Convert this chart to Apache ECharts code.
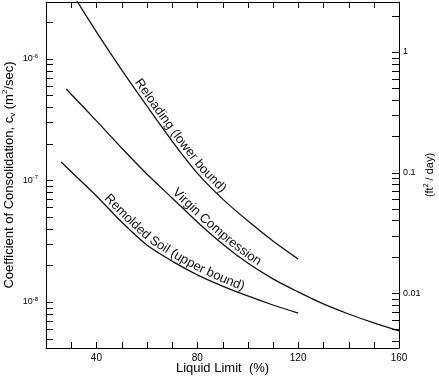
<!DOCTYPE html>
<html>
<head>
<meta charset="utf-8">
<script src="https://cdn.jsdelivr.net/npm/echarts@6/dist/echarts.min.js"></script>
<style>
  html, body { margin: 0; background: #fff; }
  #chart { width: 439px; height: 378px; }
</style>
</head>
<body>
<div id="chart"></div>
<script>
// liquid limit (%) and cv (m2/sec)
var reloadLL = [30, 40, 50, 60, 70, 80, 90, 100, 110, 120];
var reloadCv = [3.56e-6, 1.67e-6, 8.12e-7, 4.10e-7, 2.11e-7, 1.15e-7, 7.05e-8, 4.65e-8, 3.18e-8, 2.26e-8];

var virginLL = [28, 40, 50, 60, 70, 80, 90, 100, 110, 120, 130, 140, 150, 160];
var virginCv = [5.66e-7, 3.09e-7, 1.85e-7, 1.13e-7, 7.18e-8, 4.55e-8, 3.00e-8, 2.09e-8, 1.55e-8, 1.21e-8, 9.63e-9, 7.96e-9, 6.72e-9, 5.77e-9];

var remoldLL = [26, 30, 40, 50, 60, 70, 80, 90, 100, 110, 120];
var remoldCv = [1.42e-7, 1.18e-7, 7.45e-8, 4.55e-8, 2.94e-8, 2.17e-8, 1.67e-8, 1.35e-8, 1.12e-8, 9.44e-9, 8.11e-9];

// tick labels
var xTicks = [40, 80, 120, 160];
var leftTicks = [1e-8, 1e-7, 1e-6];
var rightTicks = [0.01, 0.1, 1];

var FONT = '"Liberation Sans", Arial, Helvetica, sans-serif';
var INK = '#111';

function zip(a, b) {
  return a.map(function (v, i) { return [v, b[i]]; });
}
// minor ticks 2..9 on each decade inside [lo, hi]
function logTicks(lo, hi) {
  var out = [];
  for (var e = Math.floor(Math.log10(lo)); e <= Math.ceil(Math.log10(hi)); e++) {
    for (var m = 1; m <= 9; m++) {
      var v = m * Math.pow(10, e);
      if (v > lo && v < hi) out.push(v);
    }
  }
  return out;
}
var xMinor = [];
for (var t = 30; t < 160; t += 10) xMinor.push(t);

var leftMin = 4.18e-9, leftMax = 2.94e-6;
var rightMin = 0.0035, rightMax = 2.6;

var chart = echarts.init(document.getElementById('chart'));

function axisLine() { return { show: true, onZero: false, lineStyle: { color: '#000', width: 1 } }; }
function lineSeries(ll, cv) {
  return {
    type: 'line',
    data: zip(ll, cv),
    symbol: 'none',
    smooth: 0.3,
    lineStyle: { color: INK, width: 1.3 },
    silent: true
  };
}

chart.setOption({
  animation: false,
  grid: { left: 46, right: 40, top: 2, bottom: 30, outerBoundsMode: 'none' },
  xAxis: [{
    type: 'value',
    min: 20,
    max: 160,
    position: 'bottom',
    axisLine: axisLine(),
    axisTick: { show: false },
    axisLabel: { customValues: xTicks, color: '#000', fontSize: 10, margin: 5, fontFamily: FONT },
    splitLine: { show: false },
    name: 'Liquid Limit  (%)',
    nameLocation: 'middle',
    nameGap: 14,
    nameMoveOverlap: false,
    nameTextStyle: { color: '#000', fontSize: 13, fontFamily: FONT, verticalAlign: 'top' }
  }, {
    type: 'value',
    min: 20,
    max: 160,
    position: 'top',
    axisLine: axisLine(),
    axisTick: { show: false },
    axisLabel: { show: false },
    splitLine: { show: false }
  }],
  yAxis: [{
    type: 'log',
    logBase: 10,
    min: leftMin,
    max: leftMax,
    position: 'left',
    axisLine: axisLine(),
    axisTick: { show: false },
    axisLabel: {
      customValues: leftTicks,
      margin: 8,
      formatter: function (v) {
        return '{b|10}{s|' + Math.round(Math.log10(v)) + '}';
      },
      rich: {
        b: { fontSize: 9, color: '#000', fontFamily: FONT, lineHeight: 12 },
        s: { fontSize: 6, color: '#000', fontFamily: FONT, lineHeight: 7, verticalAlign: 'top' }
      }
    },
    splitLine: { show: false },
    name: 'Coefficient of Consolidation, c{sub|v} (m{sup|2}/sec)',
    nameLocation: 'middle',
    nameGap: 29,
    nameMoveOverlap: false,
    nameTextStyle: {
      color: '#000', fontSize: 13, fontFamily: FONT, lineHeight: 16,
      rich: {
        sub: { fontSize: 8, color: '#000', fontFamily: FONT, lineHeight: 10, verticalAlign: 'bottom' },
        sup: { fontSize: 8, color: '#000', fontFamily: FONT, lineHeight: 10, verticalAlign: 'top' }
      }
    }
  }, {
    type: 'log',
    logBase: 10,
    min: rightMin,
    max: rightMax,
    position: 'right',
    axisLine: axisLine(),
    axisTick: { show: false },
    axisLabel: {
      customValues: rightTicks,
      margin: 4,
      color: '#000',
      fontSize: 9,
      fontFamily: FONT,
      formatter: function (v) { return String(+v.toPrecision(3)); }
    },
    splitLine: { show: false },
    name: '(ft{sup|2} / day)',
    nameLocation: 'middle',
    nameRotate: 90,
    nameGap: 24,
    nameMoveOverlap: false,
    nameTextStyle: {
      color: '#000', fontSize: 11, fontFamily: FONT, lineHeight: 14,
      rich: {
        sup: { fontSize: 7, color: '#000', fontFamily: FONT, lineHeight: 8, verticalAlign: 'top' }
      }
    }
  }],
  series: [
    lineSeries(reloadLL, reloadCv),
    lineSeries(virginLL, virginCv),
    lineSeries(remoldLL, remoldCv)
  ]
});

// curve captions, written along each curve
var captions = [
  { series: 0, text: 'Reloading (lower bound)', from: 54, gap: 7 },
  { series: 1, text: 'Virgin Compression', from: 69, gap: 7 },
  { series: 2, text: 'Remolded Soil (upper bound)', from: 42, gap: 7 }
];
var seriesData = [[reloadLL, reloadCv], [virginLL, virginCv], [remoldLL, remoldCv]];

var ctx = document.createElement('canvas').getContext('2d');
ctx.font = '13px ' + FONT;

function buildCaption(c) {
  var d = seriesData[c.series];
  var pts = d[0].map(function (x, i) {
    return chart.convertToPixel({ seriesIndex: c.series }, [x, d[1][i]]);
  });
  var cum = [0];
  for (var i = 1; i < pts.length; i++) {
    cum.push(cum[i - 1] + Math.hypot(pts[i][0] - pts[i - 1][0], pts[i][1] - pts[i - 1][1]));
  }
  function at(s) {
    for (var k = 1; k < pts.length; k++) {
      if (s <= cum[k] || k === pts.length - 1) {
        var f = (s - cum[k - 1]) / (cum[k] - cum[k - 1]);
        return [pts[k - 1][0] + f * (pts[k][0] - pts[k - 1][0]), pts[k - 1][1] + f * (pts[k][1] - pts[k - 1][1])];
      }
    }
  }
  // arc length where the curve reaches the start x
  var x0 = chart.convertToPixel({ seriesIndex: c.series }, [c.from, d[1][0]])[0];
  var s = 0;
  for (var k = 1; k < pts.length; k++) {
    if (pts[k][0] >= x0) {
      var f = (x0 - pts[k - 1][0]) / (pts[k][0] - pts[k - 1][0]);
      s = cum[k - 1] + f * (cum[k] - cum[k - 1]);
      break;
    }
  }
  var els = [];
  c.text.split('').forEach(function (ch) {
    var w = ctx.measureText(ch).width;
    var mid = s + w / 2;
    var p = at(mid), a = at(mid - 10), b = at(mid + 10);
    var tx = b[0] - a[0], ty = b[1] - a[1], len = Math.hypot(tx, ty);
    tx /= len; ty /= len;
    els.push({
      type: 'text',
      x: p[0] + ty * c.gap,
      y: p[1] - tx * c.gap,
      rotation: -Math.atan2(ty, tx),
      silent: true,
      style: {
        text: ch, fontSize: 13, fontFamily: FONT, fill: INK,
        align: 'center', verticalAlign: 'middle'
      }
    });
    s += w;
  });
  return els;
}

// inside tick marks, positioned through the axes' scales
function tickElements() {
  var els = [];
  var xl = chart.convertToPixel({ xAxisIndex: 0 }, 20);
  var xr = chart.convertToPixel({ xAxisIndex: 0 }, 160);
  var yt = chart.convertToPixel({ yAxisIndex: 0 }, leftMax);
  var yb = chart.convertToPixel({ yAxisIndex: 0 }, leftMin);
  function seg(x1, y1, x2, y2) {
    els.push({
      type: 'line', silent: true, z: 10,
      shape: { x1: x1, y1: y1, x2: x2, y2: y2 },
      style: { stroke: '#000', lineWidth: 1 }
    });
  }
  xMinor.forEach(function (v) {
    var x = Math.round(chart.convertToPixel({ xAxisIndex: 0 }, v)) + 0.5;
    seg(x, yb, x, yb - 6);
    seg(x, yt, x, yt + 6);
  });
  logTicks(leftMin, leftMax).forEach(function (v) {
    var y = Math.round(chart.convertToPixel({ yAxisIndex: 0 }, v)) + 0.5;
    seg(xl, y, xl + 7, y);
  });
  logTicks(rightMin, rightMax).forEach(function (v) {
    var y = Math.round(chart.convertToPixel({ yAxisIndex: 1 }, v)) + 0.5;
    seg(xr, y, xr - 7, y);
  });
  return els;
}

var elements = [];
captions.forEach(function (c) { elements = elements.concat(buildCaption(c)); });
try { elements = elements.concat(tickElements()); } catch (e) { }
chart.setOption({ graphic: { elements: elements } });
</script>
</body>
</html>
